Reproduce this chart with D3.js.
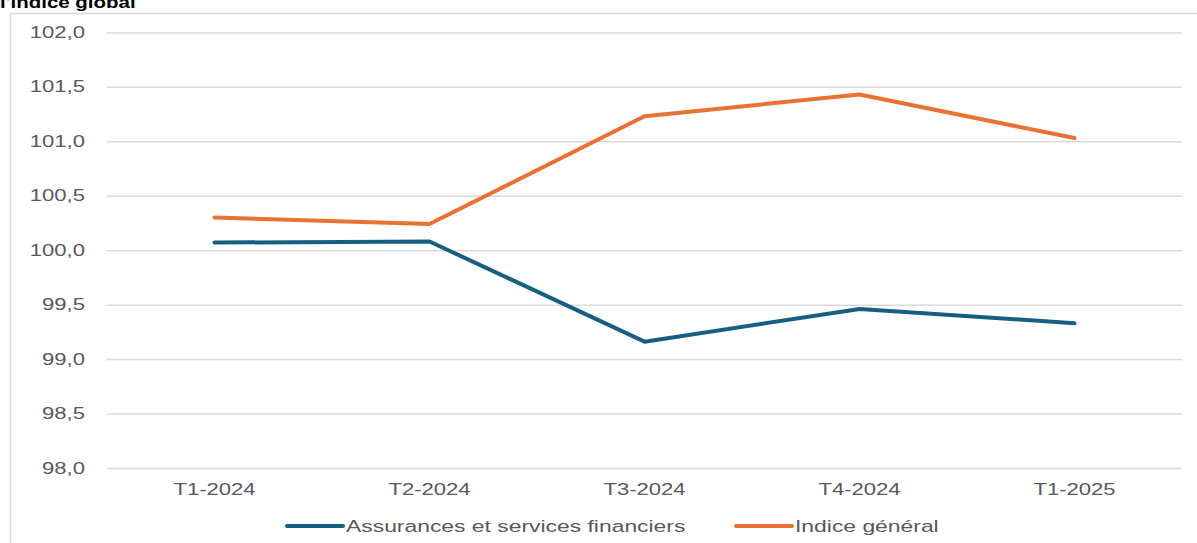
<!DOCTYPE html>
<html>
<head>
<meta charset="utf-8">
<script src="https://cdn.jsdelivr.net/npm/d3@7"></script>
<style>
  html, body { margin: 0; padding: 0; background: #fff; overflow: hidden; }
  svg { display: block; font-family: "Liberation Sans", Arial, sans-serif; }
</style>
</head>
<body>
<script>
const quarters = ["T1-2024", "T2-2024", "T3-2024", "T4-2024", "T1-2025"]
const assurances = [100.07, 100.08, 99.16, 99.46, 99.33]
const indiceGeneral = [100.30, 100.24, 101.23, 101.43, 101.03]
const yTicks = [98.0, 98.5, 99.0, 99.5, 100.0, 100.5, 101.0, 101.5, 102.0]
const seriesNames = ["Assurances et services financiers", "Indice général"]
const seriesColors = ["#156082", "#E97132"]

const width = 1197, height = 543
const stretch = 1.38   // the reference text is widened horizontally
const plotLeft = 107, plotRight = 1182, plotTop = 32.4, plotBottom = 468

const svg = d3.select("body").append("svg")
    .attr("width", width).attr("height", height)

// frame of the chart object
svg.append("path")
    .attr("d", `M10.5,${height} V13.5 H${width}`)
    .attr("fill", "none").attr("stroke", "#d9d9d9").attr("stroke-width", 1.5)

// title, cut by the top edge as in the source picture
svg.append("text")
    .attr("transform", "translate(0,8) scale(1.28,1)")
    .attr("font-size", 16).attr("font-weight", "bold").attr("fill", "#000")
    .text("l'indice global")

const x = d3.scaleBand().domain(quarters).range([plotLeft, plotRight])
const y = d3.scaleLinear().domain([98, 102]).range([plotBottom, plotTop])

const yAxis = svg.append("g")
    .attr("transform", `translate(${plotLeft},0)`)
    .call(d3.axisLeft(y).tickValues(yTicks).tickSize(-(plotRight - plotLeft)).tickPadding(0)
        .tickFormat(d => d.toFixed(1).replace(".", ",")))
yAxis.select(".domain").remove()
yAxis.selectAll(".tick line").attr("stroke", "#d9d9d9").attr("stroke-width", 1.5)
yAxis.selectAll(".tick text")
    .attr("x", -22 / stretch)
    .attr("transform", `scale(${stretch},1)`)
    .attr("font-size", 16).attr("fill", "#595959")
    .attr("font-family", "Liberation Sans, Arial, sans-serif")

const xAxis = svg.append("g")
    .attr("transform", `translate(0,${plotBottom})`)
    .call(d3.axisBottom(x).tickSize(0).tickPadding(16))
xAxis.select(".domain").remove()
xAxis.selectAll(".tick text")
    .attr("transform", `scale(${stretch},1)`)
    .attr("font-size", 16).attr("fill", "#595959")
    .attr("font-family", "Liberation Sans, Arial, sans-serif")

const line = d3.line()
    .x((d, i) => x(quarters[i]) + x.bandwidth() / 2)
    .y(d => y(d))

;[assurances, indiceGeneral].forEach((vals, k) => {
    svg.append("path").datum(vals)
        .attr("d", line)
        .attr("fill", "none")
        .attr("stroke", seriesColors[k])
        .attr("stroke-width", 4)
        .attr("stroke-linejoin", "round")
        .attr("stroke-linecap", "round")
})

// legend
const legendX = [287, 736]
const legend = svg.append("g")
seriesNames.forEach((name, k) => {
    const g = legend.append("g").attr("transform", `translate(${legendX[k]},526)`)
    g.append("line")
        .attr("x1", 0).attr("x2", 56).attr("y1", 0).attr("y2", 0)
        .attr("stroke", seriesColors[k]).attr("stroke-width", 4)
        .attr("stroke-linecap", "round")
    g.append("text")
        .attr("transform", `translate(59,5.5) scale(1.43,1)`)
        .attr("font-size", 16).attr("fill", "#595959")
        .text(name)
})
</script>
</body>
</html>
